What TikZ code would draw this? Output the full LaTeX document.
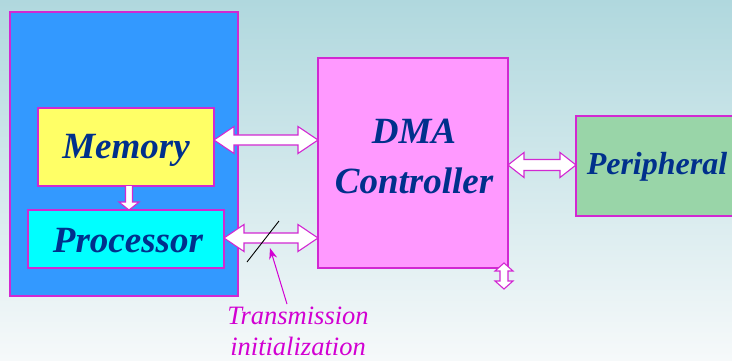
\documentclass[tikz,border=0pt]{standalone}
\usepackage{fontspec}
\setmainfont{Liberation Serif}
\usetikzlibrary{calc,arrows.meta}

\definecolor{bgtop}{RGB}{176,216,222}
\definecolor{bgbot}{RGB}{246,249,250}
\definecolor{edge}{RGB}{210,40,210}
\definecolor{sysblue}{RGB}{51,153,255}
\definecolor{memyellow}{RGB}{255,255,102}
\definecolor{cpucyan}{RGB}{0,255,255}
\definecolor{dmapink}{RGB}{255,153,255}
\definecolor{pergreen}{RGB}{153,213,168}
\definecolor{navy}{RGB}{0,48,140}
\definecolor{notecol}{RGB}{210,0,210}

\tikzset{
  box/.style={draw=edge, line width=1.3pt, inner sep=0pt, outer sep=0pt, anchor=north west},
  big/.style={text=navy, font=\fontsize{37}{44}\selectfont\bfseries\itshape},
  note/.style={text=notecol, align=center, font=\fontsize{26.5}{31}\selectfont\itshape},
  % hollow horizontal double arrow: head length, head half-height, shaft half-height
  hdbl/.style n args={3}{draw=edge, fill=white, line width=1.1pt, line join=miter,
    to path={let \p1=(\tikztostart), \p2=(\tikztotarget) in
      (\x1,\y1) -- (\x1+#1,\y1+#2) -- (\x1+#1,\y1+#3) -- (\x2-#1,\y1+#3)
      -- (\x2-#1,\y1+#2) -- (\x2,\y1) -- (\x2-#1,\y1-#2) -- (\x2-#1,\y1-#3)
      -- (\x1+#1,\y1-#3) -- (\x1+#1,\y1-#2) -- cycle}},
  % hollow vertical double arrow, drawn from top to bottom
  vdbl/.style n args={3}{draw=edge, fill=white, line width=1.1pt, line join=miter,
    to path={let \p1=(\tikztostart), \p2=(\tikztotarget) in
      (\x1,\y1) -- (\x1+#2,\y1-#1) -- (\x1+#3,\y1-#1) -- (\x1+#3,\y2+#1)
      -- (\x1+#2,\y2+#1) -- (\x1,\y2) -- (\x1-#2,\y2+#1) -- (\x1-#3,\y2+#1)
      -- (\x1-#3,\y1-#1) -- (\x1-#2,\y1-#1) -- cycle}},
  % hollow single arrow pointing down
  sdown/.style n args={3}{draw=edge, fill=white, line width=1.1pt, line join=miter,
    to path={let \p1=(\tikztostart), \p2=(\tikztotarget) in
      (\x1-#3,\y1) -- (\x1-#3,\y2+#1) -- (\x1-#2,\y2+#1) -- (\x1,\y2)
      -- (\x1+#2,\y2+#1) -- (\x1+#3,\y2+#1) -- (\x1+#3,\y1)}},
}

\begin{document}
\begin{tikzpicture}[x=1pt,y=-1pt]
  \useasboundingbox (0,0) rectangle (732,360);
  \clip (0,0) rectangle (732,360);
  \shade[top color=bgtop, bottom color=bgbot] (0,0) rectangle (732,360);

  % computer system: memory and processor
  \node[box, fill=sysblue, minimum width=228, minimum height=284] (sys) at (10,12) {};
  \node[box, fill=memyellow, minimum width=176, minimum height=78] (mem) at (38,108) {};
  \node[big] (memtxt) at (126,150) {Memory};
  \node[box, fill=cpucyan, minimum width=196, minimum height=58] (cpu) at (28,210) {};
  \node[big] (cputxt) at (128,241) {Processor};

  % DMA controller
  \node[box, fill=dmapink, minimum width=190, minimum height=210] (dma) at (318,58) {};
  \node[big, align=center, font=\fontsize{37}{50}\selectfont\bfseries\itshape] (dmatxt) at (414,156) {DMA\\Controller};

  % peripheral device
  \node[box, fill=pergreen, minimum width=164, minimum height=100] (per) at (576,116) {};
  \node[big, font=\fontsize{32}{38}\selectfont\bfseries\itshape] (pertxt) at (657,167) {Peripheral};

  % data paths
  \draw[hdbl={20pt}{13.5pt}{5pt}] ([yshift=7]mem.east) to ([yshift=7]mem.east -| dma.west);
  \draw[hdbl={20pt}{13.5pt}{5pt}] ([yshift=1]cpu.east) to ([yshift=1]cpu.east -| dma.west);
  \draw[hdbl={16pt}{12.5pt}{5.5pt}] ([yshift=1]per.west -| dma.east) to ([yshift=1]per.west);
  \draw[sdown={8pt}{10pt}{3.5pt}] ([xshift=3]mem.south) to ([xshift=3]cpu.north);

  \coordinate (io1) at (504,263);
  \coordinate (io2) at (504,289);
  \draw[vdbl={8pt}{9pt}{4pt}] (io1) to (io2);

  % control line crossing mark
  \coordinate (sl1) at (247,262);
  \coordinate (sl2) at (279,221);
  \draw[line width=0.9pt] (sl1) -- (sl2);

  % annotation
  \node[note] (tx) at (298,331) {Transmission\\initialization};
  \coordinate (tip) at (270,248);
  \draw[notecol, line width=1pt, -{Stealth[length=11pt,width=8pt]}] ([xshift=-11,yshift=-1]tx.north) -- (tip);
\end{tikzpicture}
\end{document}
